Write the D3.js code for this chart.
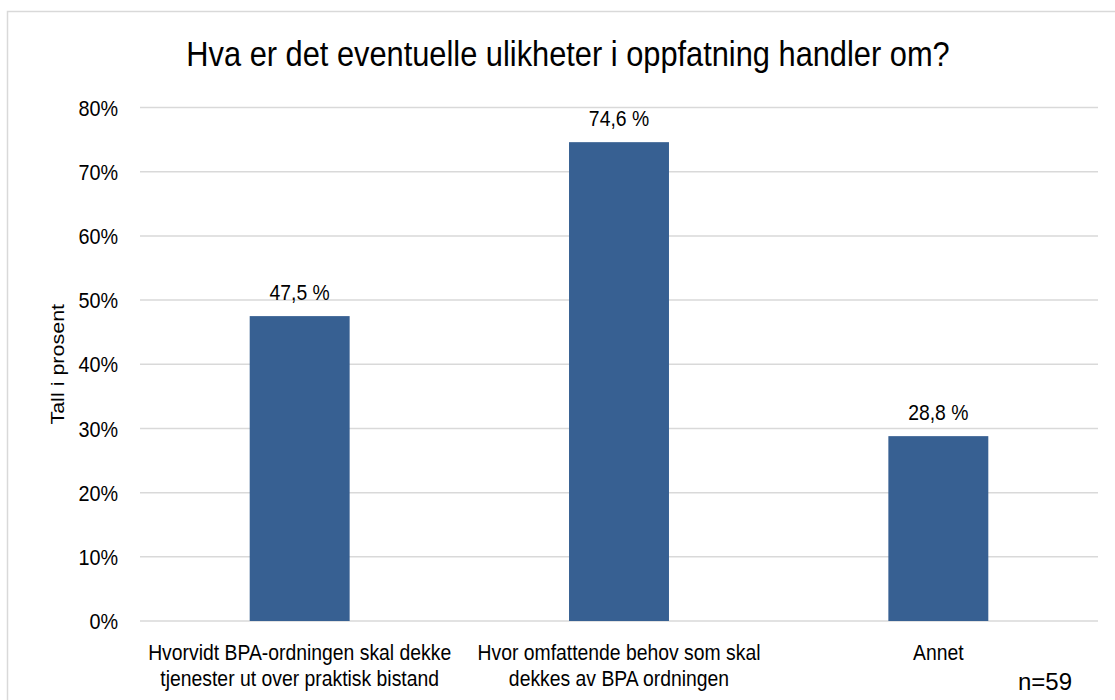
<!DOCTYPE html>
<html>
<head>
<meta charset="utf-8">
<script src="https://cdn.jsdelivr.net/npm/d3@7"></script>
<style>
  body { margin: 0; background: #fff; }
  text { font-family: "Liberation Sans", Arial, sans-serif; fill: #000; }
</style>
</head>
<body>
<div id="chart"></div>
<script>
// data
const categories = [
  ["Hvorvidt BPA-ordningen skal dekke", "tjenester ut over praktisk bistand"],
  ["Hvor omfattende behov som skal", "dekkes av BPA ordningen"],
  ["Annet"]
];
const values = [47.5, 74.6, 28.8];
const yTicks = [0, 10, 20, 30, 40, 50, 60, 70, 80];
const title = "Hva er det eventuelle ulikheter i oppfatning handler om?";
const yTitle = "Tall i prosent";
const note = "n=59";

const width = 1115, height = 700;
const margin = {top: 107.5, right: 17, bottom: 79, left: 140};
const sx = 0.88; // text in the picture is a bit narrow
const barColor = '#376092',
    gridColor = '#d9d9d9';

const svg = d3.select('#chart').append('svg')
    .attr('width', width)
    .attr('height', height);

// chart border
svg.append('rect')
    .attr('x', 7.5).attr('y', 11.5)
    .attr('width', width).attr('height', height)
    .attr('fill', 'none')
    .attr('stroke', gridColor)
    .attr('stroke-width', 1.5);

const x = d3.scaleBand()
    .domain(categories.map((d, i) => i))
    .range([margin.left, width - margin.right])
    .paddingInner(0.687)
    .paddingOuter(0.3435);

const y = d3.scaleLinear()
    .domain([0, 80])
    .range([height - margin.bottom, margin.top]);

// helper: squeezed text at a point
function label(px, py, txt, size, anchor) {
  return svg.append('g')
      .attr('transform', 'translate(' + px + ',' + py + ') scale(' + sx + ',1)')
    .append('text')
      .attr('text-anchor', anchor || 'middle')
      .attr('font-size', size)
      .text(txt);
}

// gridlines
svg.append('g')
  .selectAll('line')
  .data(yTicks)
  .enter().append('line')
    .attr('x1', margin.left)
    .attr('x2', width - margin.right)
    .attr('y1', d => y(d))
    .attr('y2', d => y(d))
    .attr('stroke', gridColor)
    .attr('stroke-width', 1.5);

// y tick labels
yTicks.forEach(t => {
  label(118, y(t), t + '%', 22.5, 'end').attr('dy', '0.36em');
});

// bars
svg.append('g')
  .selectAll('rect')
  .data(values)
  .enter().append('rect')
    .attr('x', (d, i) => x(i))
    .attr('width', x.bandwidth())
    .attr('y', d => y(d))
    .attr('height', d => y(0) - y(d))
    .attr('fill', barColor);

// value labels
values.forEach((v, i) => {
  label(x(i) + x.bandwidth() / 2, y(v) - 16, d3.format('.1f')(v).replace('.', ',') + ' %', 22);
});

// category labels
categories.forEach((lines, i) => {
  lines.forEach((ln, j) => {
    label(x(i) + x.bandwidth() / 2, 660 + j * 25.5, ln, 22);
  });
});

// title
label(568, 66, title, 35);

// y axis title
svg.append('g')
    .attr('transform', 'translate(' + 64 + ',' + (y(0) + y(80)) / 2 + ') scale(' + sx + ',1) rotate(-90)')
  .append('text')
    .attr('text-anchor', 'middle')
    .attr('font-size', 21.5)
    .text(yTitle);

// n
svg.append('text')
    .attr('x', 1072).attr('y', 690)
    .attr('text-anchor', 'end')
    .attr('font-family', '"Open Sans", "Noto Sans", sans-serif')
    .attr('font-size', 24)
    .text(note);
</script>
</body>
</html>
